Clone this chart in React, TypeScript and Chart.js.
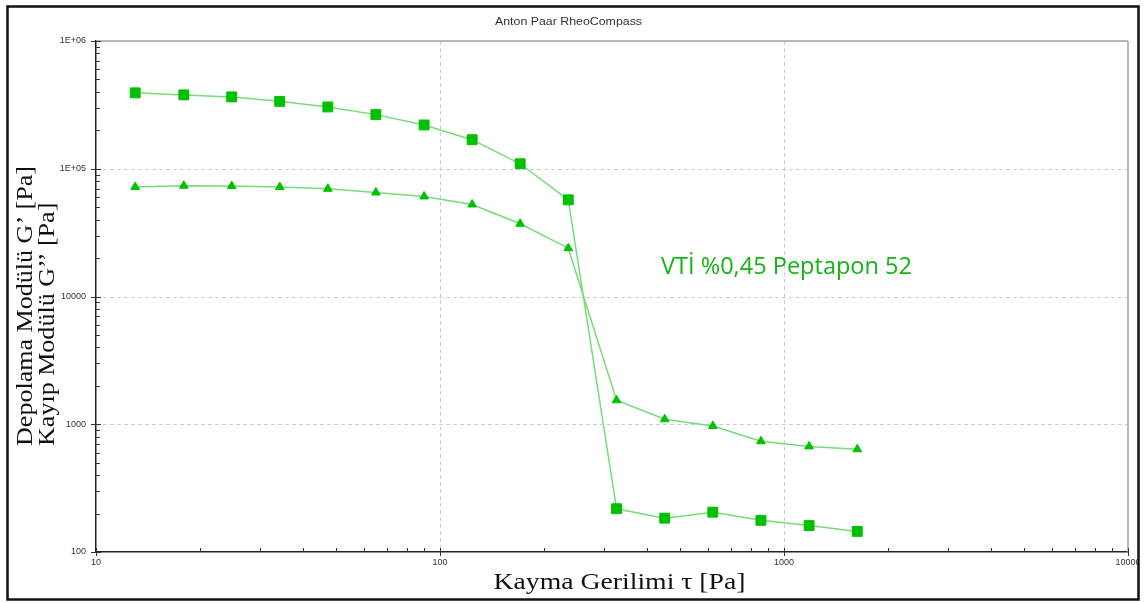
import { useEffect, useRef } from "react";
import { Chart, registerables } from "chart.js";

Chart.register(...registerables);

// Shear stress τ [Pa]
const stress = [13.0, 18.0, 24.8, 34.2, 47.2, 65.1, 89.9, 124, 171, 236, 326, 450, 621, 857, 1183, 1633];
// Storage modulus G' [Pa] (squares)
const storageModulus = [392700, 378500, 365000, 337000, 304700, 265300, 220200, 168800, 109400, 57100, 218, 184, 205, 177, 161, 145];
// Loss modulus G'' [Pa] (triangles)
const lossModulus = [71870, 73600, 73200, 71870, 69700, 65200, 60700, 52500, 37100, 23900, 1540, 1094, 970, 736, 671, 637];

const xTickValues = [10, 100, 1000, 10000];
const xTickLabels = ["10", "100", "1000", "10000"];
const yTickValues = [100, 1000, 10000, 100000, 1000000];
const yTickLabels = ["100", "1000", "10000", "1E+05", "1E+06"];

const chartTitle = "Anton Paar RheoCompass";
const xTitle = "Kayma Gerilimi τ [Pa]";
const yTitleLines = ["Depolama Modülü G’ [Pa]", "Kayıp Modülü G’’ [Pa]"];
const annotationText = "VTİ %0,45 Peptapon 52";

const lineColor = "#78da78";
const markerColor = "#00c000";

function line(ctx: CanvasRenderingContext2D, x1: number, y1: number, x2: number, y2: number) {
  ctx.beginPath();
  ctx.moveTo(x1, y1);
  ctx.lineTo(x2, y2);
  ctx.stroke();
}

function fittedText(ctx: CanvasRenderingContext2D, text: string, cx: number, by: number, width: number) {
  const w = ctx.measureText(text).width;
  ctx.save();
  ctx.translate(cx, by);
  ctx.scale(width / w, 1);
  ctx.textAlign = "center";
  ctx.fillText(text, 0, 0);
  ctx.restore();
}

const decorPlugin = {
  id: "decor",
  beforeDraw(chart: any) {
    const c = chart.ctx;
    c.save();
    c.fillStyle = "#ffffff";
    c.fillRect(0, 0, chart.width, chart.height);
    c.restore();
  },
  beforeDatasetsDraw(chart: any) {
    const { ctx, chartArea: a, scales } = chart;
    const x = scales.x;
    const y = scales.y;
    ctx.save();
    // dashed major grid
    ctx.strokeStyle = "#cdcdcd";
    ctx.lineWidth = 1;
    ctx.setLineDash([4, 3]);
    for (const v of xTickValues) {
      if (v <= x.min || v >= x.max) continue;
      const px = Math.round(x.getPixelForValue(v)) + 0.5;
      line(ctx, px, a.top, px, a.bottom);
    }
    for (const v of yTickValues) {
      if (v <= y.min || v >= y.max) continue;
      const py = Math.round(y.getPixelForValue(v)) + 0.5;
      line(ctx, a.left, py, a.right, py);
    }
    ctx.setLineDash([]);
    // top / right frame
    ctx.strokeStyle = "#a0a0a0";
    ctx.lineWidth = 1.5;
    line(ctx, a.left, a.top, a.right, a.top);
    line(ctx, a.right, a.top, a.right, a.bottom);
    // ticks
    ctx.strokeStyle = "#333";
    ctx.lineWidth = 1;
    for (let d = 100; d < 1000000; d *= 10) {
      for (let m = 2; m <= 9; m++) {
        const py = Math.round(y.getPixelForValue(d * m)) + 0.5;
        line(ctx, a.left, py, a.left + 4, py);
      }
    }
    for (const v of yTickValues) {
      const py = Math.round(y.getPixelForValue(v)) + 0.5;
      line(ctx, a.left - 5, py, a.left + 5, py);
    }
    for (let d = 10; d < 10000; d *= 10) {
      for (let m = 2; m <= 9; m++) {
        const px = Math.round(x.getPixelForValue(d * m)) + 0.5;
        line(ctx, px, a.bottom, px, a.bottom - 4);
      }
    }
    for (const v of xTickValues) {
      const px = Math.round(x.getPixelForValue(v)) + 0.5;
      line(ctx, px, a.bottom - 4, px, a.bottom + 4);
    }
    ctx.restore();
  },
  afterDraw(chart: any) {
    const { ctx } = chart;
    ctx.save();
    ctx.textBaseline = "alphabetic";
    // chart title
    ctx.fillStyle = "#333";
    ctx.font = "11.5px 'Liberation Sans', Arial, sans-serif";
    fittedText(ctx, chartTitle, 568.5, 25, 147);

    // x axis title
    ctx.fillStyle = "#111";
    ctx.font = "24px 'Liberation Serif', 'Times New Roman', serif";
    fittedText(ctx, xTitle, 619.5, 589, 252);

    // y axis titles (rotated, left aligned at bottom)
    ctx.font = "23px 'Liberation Serif', 'Times New Roman', serif";
    ctx.textAlign = "left";
    const baselines = [32, 54];
    const k = 280 / ctx.measureText(yTitleLines[0]).width;
    yTitleLines.forEach((t, i) => {
      ctx.save();
      ctx.translate(baselines[i], 446);
      ctx.rotate(-Math.PI / 2);
      ctx.scale(k, 1);
      ctx.fillText(t, 0, 0);
      ctx.restore();
    });

    // annotation
    ctx.fillStyle = "#14b414";
    ctx.font = "24px 'Open Sans', 'Noto Sans', sans-serif";
    fittedText(ctx, annotationText, 786.5, 274, 251);

    // clear outside of outer frame, then frame
    ctx.fillStyle = "#fff";
    ctx.fillRect(1139, 0, chart.width - 1139, chart.height);
    ctx.strokeStyle = "#111";
    ctx.lineWidth = 2.5;
    ctx.strokeRect(7.5, 6.5, 1131, 593);
    ctx.restore();
  },
};

export default function App() {
  const ref = useRef<HTMLCanvasElement>(null);
  useEffect(() => {
    document.body.style.margin = "0";
    const canvas = ref.current;
    if (!canvas) return;
    const chart = new Chart(canvas, {
      type: "scatter",
      data: {
        datasets: [
          {
            label: "G'",
            data: stress.map((x, i) => ({ x, y: storageModulus[i] })),
            showLine: true,
            borderColor: lineColor,
            borderWidth: 1.5,
            pointStyle: "rect",
            pointRadius: 7,
            pointBackgroundColor: markerColor,
            pointBorderColor: markerColor,
            pointBorderWidth: 1,
          },
          {
            label: "G''",
            data: stress.map((x, i) => ({ x, y: lossModulus[i] })),
            showLine: true,
            borderColor: lineColor,
            borderWidth: 1.5,
            pointStyle: "triangle",
            pointRadius: 5,
            pointBackgroundColor: markerColor,
            pointBorderColor: markerColor,
            pointBorderWidth: 1,
          },
        ],
      },
      options: {
        responsive: false,
        animation: false,
        layout: { padding: { left: 0, top: 41, right: 18, bottom: 0 } },
        plugins: {
          legend: { display: false },
          tooltip: { enabled: false },
          title: { display: false },
        },
        scales: {
          x: {
            type: "logarithmic",
            min: 10,
            max: 10000,
            position: "bottom",
            afterFit: (s: any) => {
              s.height = 51;
            },
            afterBuildTicks: (s: any) => {
              s.ticks = xTickValues.map((v) => ({ value: v }));
            },
            ticks: {
              autoSkip: false,
              maxRotation: 0,
              padding: 5,
              color: "#333",
              font: { family: "'Liberation Sans', Arial, sans-serif", size: 9 },
              callback: (v: any) => {
                const i = xTickValues.indexOf(Number(v));
                return i >= 0 ? xTickLabels[i] : "";
              },
            },
            grid: { display: false, drawTicks: false },
            border: { display: true, color: "#222", width: 1.5 },
          },
          y: {
            type: "logarithmic",
            min: 100,
            max: 1000000,
            position: "left",
            afterFit: (s: any) => {
              s.width = 96;
            },
            afterBuildTicks: (s: any) => {
              s.ticks = yTickValues.map((v) => ({ value: v }));
            },
            ticks: {
              autoSkip: false,
              padding: 10,
              color: "#333",
              font: { family: "'Liberation Sans', Arial, sans-serif", size: 9 },
              callback: (v: any) => {
                const i = yTickValues.indexOf(Number(v));
                return i >= 0 ? yTickLabels[i] : "";
              },
            },
            grid: { display: false, drawTicks: false },
            border: { display: true, color: "#222", width: 1.5 },
          },
        },
      },
      plugins: [decorPlugin],
    } as any);
    return () => chart.destroy();
  }, []);
  return (
    <div style={{ position: "fixed", left: 0, top: 0, width: 1146, height: 603, background: "#fff" }}>
      <canvas ref={ref} width={1146} height={603} style={{ display: "block" }} />
    </div>
  );
}
